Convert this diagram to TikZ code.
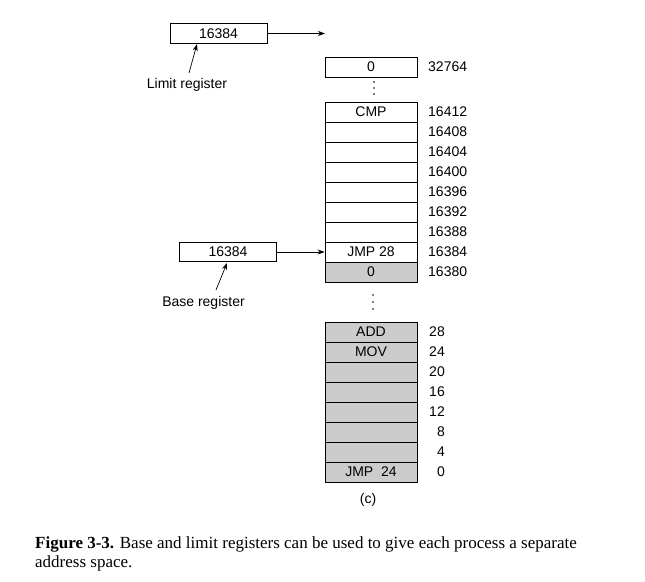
\documentclass[tikz,border=0pt]{standalone}
\usepackage{fontspec}
\setmainfont{Liberation Serif}
\newfontfamily\diagfont{Liberation Sans}
\usetikzlibrary{arrows.meta}
\begin{document}
\begin{tikzpicture}[x=1pt,y=-1pt,
  txt/.style={font=\diagfont\fontsize{14}{15}\selectfont, inner sep=0pt},
  cell/.style={txt, draw, line width=0.8pt, minimum width=92pt, minimum height=20pt},
  gcell/.style={cell, fill=black!20},
  reg/.style={txt, draw, line width=0.8pt, minimum width=97pt, minimum height=19.5pt},
  addr/.style={txt, anchor=west},
  addrr/.style={txt, anchor=east},
  ptr/.style={-{Stealth[length=7pt,width=5pt]}, line width=0.7pt},
  captxt/.style={anchor=base west, inner sep=0pt, font=\fontsize{17}{20}\selectfont}
]
\useasboundingbox (0,0) rectangle (645,581);

% limit register
\node[reg] (limit) at (218.5,33.5) {16384};
\coordinate (limitend) at (325,33.5);
\draw[ptr] (limit.east) -- (limitend);
\node[txt] (limitlbl) at (187,85) {Limit register};
\coordinate (limittail) at (189,73);
\coordinate (limithead) at (197,44);
\draw[ptr] (limittail) -- (limithead);

% top cell
\node[cell] (top) at (371,67) {0};
\node[addr] (a32764) at (428,67) {32764};
\foreach \yy in {82,88,94}{\fill (374,\yy) circle (0.9);}

% upper stack
\node[cell] (u0) at (371,112) {CMP};
\node[cell] (u1) at (371,132) {};
\node[cell] (u2) at (371,152) {};
\node[cell] (u3) at (371,172) {};
\node[cell] (u4) at (371,192) {};
\node[cell] (u5) at (371,212) {};
\node[cell] (u6) at (371,232) {};
\node[cell] (u7) at (371,252) {JMP 28};
\node[gcell] (u8) at (371,272) {0};
\foreach \yy/\lab in {112/16412,132/16408,152/16404,172/16400,192/16396,212/16392,232/16388,252/16384,272/16380}{
  \node[addr] at (428,\yy) {\lab};
}

% base register
\node[reg] (base) at (228,252) {16384};
\draw[ptr] (base.east) -- (u7.west);
\node[txt] (baselbl) at (203.5,303) {Base register};
\coordinate (basetail) at (216,290);
\coordinate (basehead) at (227,263);
\draw[ptr] (basetail) -- (basehead);

\foreach \yy in {295,302,309}{\fill (373,\yy) circle (0.9);}

% lower stack
\node[gcell] (l0) at (371,332) {ADD};
\node[gcell] (l1) at (371,352) {MOV};
\node[gcell] (l2) at (371,372) {};
\node[gcell] (l3) at (371,392) {};
\node[gcell] (l4) at (371,412) {};
\node[gcell] (l5) at (371,432) {};
\node[gcell] (l6) at (371,452) {};
\node[gcell] (l7) at (371,472) {JMP\ \ 24};
\foreach \yy/\lab in {332/28,352/24,372/20,392/16,412/12,432/8,452/4,472/0}{
  \node[addrr] at (445,\yy) {\lab};
}

\node[txt] (cap) at (368,500) {(c)};

% caption
\node[captxt] (cap1) at (35,548) {\textbf{Figure 3-3.} Base and limit registers can be used to give each process a separate};
\node[captxt] (cap2) at (35,567) {address space.};
\end{tikzpicture}
\end{document}
